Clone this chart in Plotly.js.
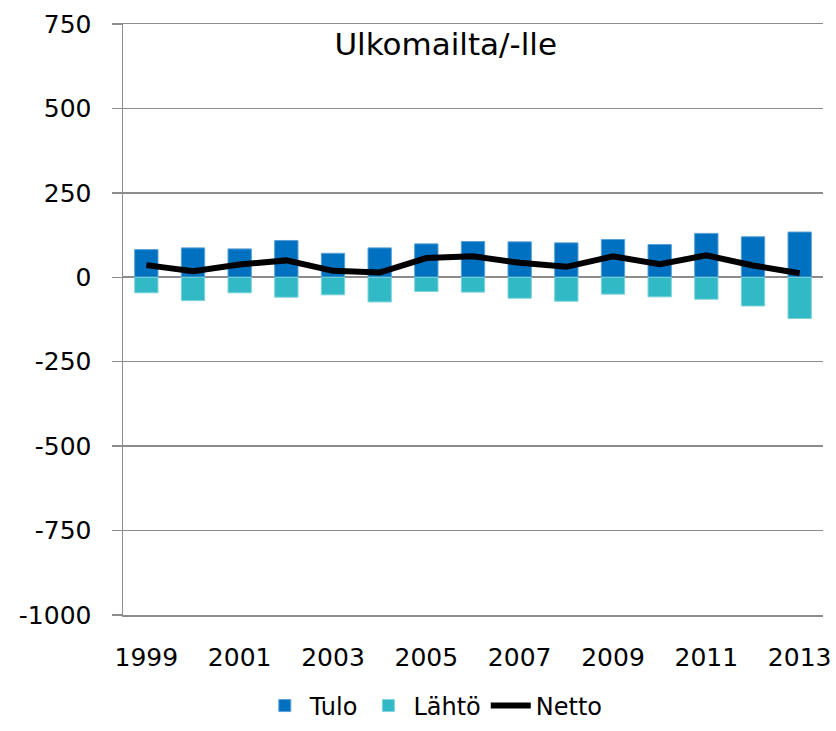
<!DOCTYPE html>
<html>
<head>
<meta charset="utf-8">
<script src="https://cdn.plot.ly/plotly-3.0.1.min.js"></script>
<style>html,body{margin:0;padding:0;background:#fff;}#chart{width:836px;height:731px;}</style>
</head>
<body>
<div id="chart"></div>
<script>
const years = [1999,2000,2001,2002,2003,2004,2005,2006,2007,2008,2009,2010,2011,2012,2013];
const tulo  = [82,87,84,109,71,87,99,106,105,102,112,97,130,120,134];
const lahto = [-46,-69,-46,-59,-52,-73,-42,-44,-62,-71,-50,-58,-65,-85,-122];
const netto = [36,18,38,50,19,14,57,62,43,31,62,39,65,35,12];
const tickYears = [1999,2001,2003,2005,2007,2009,2011,2013];
const yTicks = [750,500,250,0,-250,-500,-750,-1000];

const FONT = 'DejaVu Sans, Arial, sans-serif';
const data = [
  {type:'bar', name:'Tulo', x:years, y:tulo, marker:{color:'#0070C0', line:{color:'#5aa0d6', width:1}}},
  {type:'bar', name:'Lähtö', x:years, y:lahto, marker:{color:'#31B9C6', line:{color:'#7fd3db', width:1}}},
  {type:'scatter', mode:'lines', name:'Netto', x:years, y:netto, line:{color:'#000000', width:6}}
];
const layout = {
  width:836, height:731,
  margin:{l:123, r:13, t:24, b:116, autoexpand:false},
  paper_bgcolor:'#ffffff', plot_bgcolor:'#ffffff',
  barmode:'relative', bargap:0.5,
  font:{family:FONT, size:25, color:'#000000'},
  title:{text:'Ulkomailta/-lle', font:{family:FONT, size:31, color:'#000000'},
         xref:'paper', x:0.461, xanchor:'center', yref:'paper', y:0.966, yanchor:'middle'},
  showlegend:true,
  legend:{orientation:'h', x:0.444, xanchor:'center', y:-0.192, yanchor:'bottom',
          font:{family:FONT, size:24, color:'#000000'}, traceorder:'normal', itemwidth:40},
  xaxis:{
    tickmode:'array', tickvals:tickYears, ticktext:tickYears.map(String),
    range:[1998.5, 2013.5], showgrid:false, zeroline:false, automargin:false,
    showline:true, linecolor:'#8c8c8c', linewidth:1.5, mirror:true,
    ticks:'', ticklabelstandoff:19, tickfont:{family:FONT, size:25, color:'#000000'}
  },
  yaxis:{
    range:[-1000,750], tickmode:'array', tickvals:yTicks, ticktext:yTicks.map(String),
    showgrid:true, gridcolor:'#8c8c8c', gridwidth:1.5, automargin:false,
    zeroline:true, zerolinecolor:'#8c8c8c', zerolinewidth:2,
    showline:true, linecolor:'#8c8c8c', linewidth:1.5,
    ticks:'outside', ticklen:10, tickcolor:'#8c8c8c', tickwidth:1.5,
    ticklabelstandoff:15, tickfont:{family:FONT, size:25, color:'#000000'}
  }
};
Plotly.newPlot('chart', data, layout, {staticPlot:true, displayModeBar:false});
</script>
</body>
</html>
